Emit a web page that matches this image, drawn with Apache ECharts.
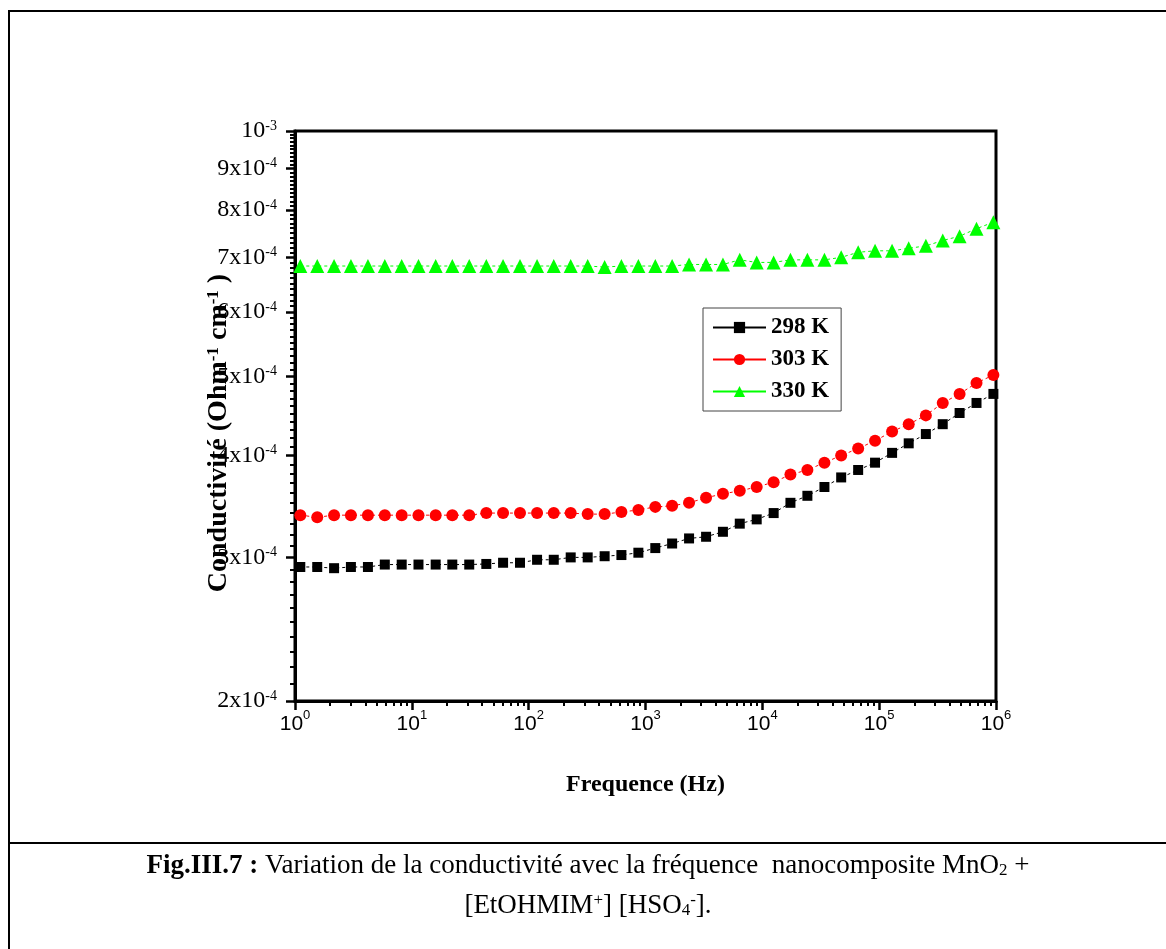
<!DOCTYPE html>
<html>
<head>
<meta charset="utf-8">
<title>Conductivité - fréquence</title>
<script src="https://cdn.jsdelivr.net/npm/echarts@6/dist/echarts.min.js"></script>
<style>
    html, body { margin: 0; padding: 0; background: #fff; }
    #chart1 { width: 1166px; height: 949px; }
</style>
</head>
<body>
<div id="chart1"></div>
<script>
    var freq = [1.11, 1.55, 2.16, 3.01, 4.21, 5.87, 8.19, 11.4, 16.0, 22.2, 31.0, 43.4, 60.4, 84.3,
        118, 164, 229, 320, 447, 622, 869, 1213, 1690, 2360, 3300, 4600, 6410, 8950,
        12500, 17400, 24300, 34000, 47300, 66100, 92200, 129000, 179000, 251000, 350000, 488000, 681000, 950000];
    // conductivité en x10^-4 Ohm^-1 cm^-1
    var s298 = [2.92, 2.92, 2.91, 2.92, 2.92, 2.94, 2.94, 2.94, 2.94, 2.94, 2.94, 2.945, 2.955, 2.955,
        2.98, 2.98, 3.00, 3.00, 3.01, 3.02, 3.04, 3.08, 3.12, 3.165, 3.18, 3.225, 3.30, 3.34,
        3.40, 3.50, 3.57, 3.66, 3.76, 3.84, 3.92, 4.03, 4.14, 4.25, 4.37, 4.51, 4.64, 4.76];
    var s303 = [3.38, 3.36, 3.38, 3.38, 3.38, 3.38, 3.38, 3.38, 3.38, 3.38, 3.38, 3.40, 3.40, 3.40,
        3.40, 3.40, 3.40, 3.39, 3.39, 3.41, 3.43, 3.46, 3.47, 3.50, 3.55, 3.59, 3.62, 3.66,
        3.71, 3.79, 3.84, 3.92, 4.00, 4.08, 4.17, 4.28, 4.37, 4.48, 4.64, 4.76, 4.91, 5.02];
    var s330 = [6.83, 6.83, 6.83, 6.83, 6.83, 6.83, 6.83, 6.83, 6.83, 6.83, 6.83, 6.83, 6.83, 6.83,
        6.83, 6.83, 6.83, 6.83, 6.81, 6.83, 6.83, 6.83, 6.83, 6.86, 6.86, 6.86, 6.95, 6.90,
        6.90, 6.95, 6.95, 6.95, 7.00, 7.10, 7.13, 7.13, 7.18, 7.23, 7.34, 7.43, 7.59, 7.73];
    var names = ['298 K', '303 K', '330 K'];

    // graduations
    var yMajor = [2e-4, 3e-4, 4e-4, 5e-4, 6e-4, 7e-4, 8e-4, 9e-4, 1e-3];
    var xMajor = [1, 10, 100, 1e3, 1e4, 1e5, 1e6];
    var yMinor = [];
    for (var i = 21; i < 100; i++) {
        if (i % 10 !== 0) yMinor.push(i * 1e-5);
    }
    var xMinor = [];
    for (var d = 0; d < 6; d++) {
        for (var m = 2; m < 10; m++) xMinor.push(m * Math.pow(10, d));
    }

    function pts(vals) {
        return freq.map(function (f, i) { return [f, vals[i] * 1e-4]; });
    }

    var serif = 'Liberation Serif';
    var box = {left: 295, right: 170, top: 131, bottom: 248};

    var myChart1 = echarts.init(document.getElementById('chart1'));
    myChart1.setOption({
        animation: false,
        grid: [
            Object.assign({show: true, borderColor: '#000', borderWidth: 3}, box),
            Object.assign({show: false}, box)
        ],
        legend: {
            orient: 'vertical',
            left: 703,
            top: 308,
            padding: [8, 12, 8, 9],
            itemGap: 9,
            itemWidth: 53,
            itemHeight: 14,
            borderColor: '#444',
            borderWidth: 1,
            lineStyle: {type: 'solid', width: 2},
            textStyle: {fontFamily: serif, fontWeight: 'bold', fontSize: 23, color: '#000'},
            data: names
        },
        xAxis: [{
            type: 'log',
            min: 1,
            max: 1e6,
            gridIndex: 0,
            name: 'Frequence (Hz)',
            nameLocation: 'middle',
            nameGap: 72,
            nameMoveOverlap: false,
            nameTextStyle: {fontFamily: serif, fontWeight: 'bold', fontSize: 24, color: '#000'},
            axisLine: {lineStyle: {color: '#000', width: 3}},
            axisTick: {customValues: xMajor, length: 9, lineStyle: {color: '#000', width: 2.5}},
            axisLabel: {
                customValues: xMajor,
                margin: 8,
                formatter: function (v) {
                    return '{b|10}{s|' + Math.round(Math.log10(v)) + '}';
                },
                rich: {
                    b: {fontFamily: 'Liberation Sans', fontSize: 21, lineHeight: 30, color: '#000'},
                    s: {fontFamily: 'Liberation Sans', fontSize: 13, color: '#000', verticalAlign: 'top'}
                }
            },
            splitLine: {show: false}
        }, {
            type: 'log',
            min: 1,
            max: 1e6,
            gridIndex: 1,
            axisLine: {show: false},
            axisTick: {customValues: xMinor, length: 5, lineStyle: {color: '#000', width: 2}},
            axisLabel: {show: false},
            splitLine: {show: false}
        }],
        yAxis: [{
            type: 'log',
            min: 2e-4,
            max: 1e-3,
            gridIndex: 0,
            name: '{t|Conductivité (Ohm}{s|-1}{t| cm}{s|-1}{t| )}',
            nameLocation: 'middle',
            nameRotate: 90,
            nameGap: 62,
            nameMoveOverlap: false,
            nameTextStyle: {
                padding: [0, 34, 0, 0],
                rich: {
                    t: {fontFamily: serif, fontWeight: 'bold', fontSize: 28, color: '#000'},
                    s: {fontFamily: serif, fontWeight: 'bold', fontSize: 17, color: '#000', verticalAlign: 'top'}
                }
            },
            axisLine: {lineStyle: {color: '#000', width: 3}},
            axisTick: {customValues: yMajor, length: 9, lineStyle: {color: '#000', width: 2.5}},
            axisLabel: {
                customValues: yMajor,
                margin: 18,
                formatter: function (v) {
                    var m = Math.round(v * 1e4);
                    if (m === 10) return '{b|10}{s|-3}';
                    return '{b|' + m + 'x10}{s|-4}';
                },
                rich: {
                    b: {fontFamily: serif, fontSize: 24, color: '#000'},
                    s: {fontFamily: serif, fontSize: 14, color: '#000', verticalAlign: 'top'}
                }
            },
            splitLine: {show: false}
        }, {
            type: 'log',
            min: 2e-4,
            max: 1e-3,
            gridIndex: 1,
            axisLine: {show: false},
            axisTick: {customValues: yMinor, length: 5, lineStyle: {color: '#000', width: 2}},
            axisLabel: {show: false},
            splitLine: {show: false}
        }],
        series: [
            {
                name: names[0],
                type: 'line',
                data: pts(s298),
                symbol: 'rect',
                symbolSize: 10,
                itemStyle: {color: '#000'},
                lineStyle: {color: '#000', width: 1, type: [3, 3]}
            },
            {
                name: names[1],
                type: 'line',
                data: pts(s303),
                symbol: 'circle',
                symbolSize: 12,
                itemStyle: {color: '#ff0000'},
                lineStyle: {color: '#ff0000', width: 1, type: [3, 3]}
            },
            {
                name: names[2],
                type: 'line',
                data: pts(s330),
                symbol: 'triangle',
                symbolSize: 14,
                itemStyle: {color: '#00ff00'},
                lineStyle: {color: '#00ff00', width: 1, type: [3, 3]}
            }
        ],
        graphic: [
            {type: 'line', shape: {x1: 8, y1: 11, x2: 1166, y2: 11}, style: {stroke: '#000', lineWidth: 2}},
            {type: 'line', shape: {x1: 9, y1: 10, x2: 9, y2: 949}, style: {stroke: '#000', lineWidth: 2}},
            {type: 'line', shape: {x1: 8, y1: 843, x2: 1166, y2: 843}, style: {stroke: '#000', lineWidth: 2}},
            {
                type: 'text',
                x: 588,
                y: 866,
                style: {
                    text: '{b|Fig.III.7 :}{n| Variation de la conductivité avec la fréquence  nanocomposite MnO}{sub|2}{n| +}',
                    align: 'center',
                    verticalAlign: 'middle',
                    rich: {
                        b: {fontFamily: serif, fontWeight: 'bold', fontSize: 27, color: '#000'},
                        n: {fontFamily: serif, fontSize: 27, color: '#000'},
                        sub: {fontFamily: serif, fontSize: 17, color: '#000', verticalAlign: 'bottom'}
                    }
                }
            },
            {
                type: 'text',
                x: 588,
                y: 906,
                style: {
                    text: '{n|[EtOHMIM}{sup|+}{n|] [HSO}{sub|4}{sup|-}{n|].}',
                    align: 'center',
                    verticalAlign: 'middle',
                    rich: {
                        n: {fontFamily: serif, fontSize: 27, color: '#000'},
                        sub: {fontFamily: serif, fontSize: 17, color: '#000', verticalAlign: 'bottom'},
                        sup: {fontFamily: serif, fontSize: 17, color: '#000', verticalAlign: 'top'}
                    }
                }
            }
        ]
    });
</script>
</body>
</html>
